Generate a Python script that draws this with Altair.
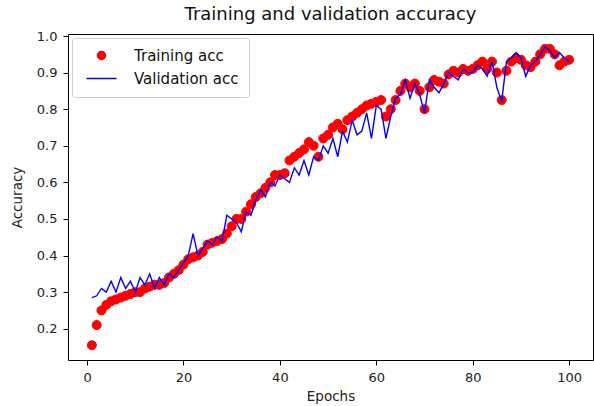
import altair as alt
import pandas as pd

epochs = list(range(1, 101))

train_acc = [
    0.155, 0.21, 0.25, 0.265, 0.275, 0.28, 0.285, 0.29, 0.295, 0.30,
    0.30, 0.31, 0.315, 0.32, 0.32, 0.325, 0.34, 0.35, 0.36, 0.375,
    0.39, 0.395, 0.40, 0.41, 0.43, 0.435, 0.44, 0.445, 0.46, 0.48,
    0.50, 0.50, 0.52, 0.54, 0.56, 0.57, 0.585, 0.60, 0.62, 0.62,
    0.625, 0.66, 0.67, 0.68, 0.69, 0.71, 0.70, 0.67, 0.72, 0.73,
    0.75, 0.76, 0.745, 0.77, 0.78, 0.79, 0.80, 0.81, 0.815, 0.82,
    0.825, 0.78, 0.80, 0.825, 0.85, 0.87, 0.86, 0.87, 0.85, 0.80,
    0.86, 0.88, 0.875, 0.87, 0.895, 0.905, 0.90, 0.91, 0.905, 0.91,
    0.92, 0.93, 0.91, 0.93, 0.90, 0.825, 0.905, 0.93, 0.94, 0.935,
    0.92, 0.915, 0.93, 0.95, 0.965, 0.965, 0.95, 0.92, 0.93, 0.935,
]

val_acc = [
    0.285, 0.29, 0.31, 0.30, 0.33, 0.30, 0.34, 0.31, 0.33, 0.30,
    0.34, 0.32, 0.35, 0.31, 0.34, 0.32, 0.35, 0.34, 0.36, 0.38,
    0.40, 0.46, 0.40, 0.42, 0.44, 0.43, 0.45, 0.44, 0.51, 0.50,
    0.49, 0.465, 0.52, 0.51, 0.55, 0.58, 0.56, 0.60, 0.59, 0.62,
    0.61, 0.60, 0.64, 0.62, 0.66, 0.62, 0.67, 0.66, 0.70, 0.68,
    0.72, 0.67, 0.74, 0.71, 0.77, 0.73, 0.74, 0.79, 0.72, 0.81,
    0.80, 0.72, 0.78, 0.83, 0.84, 0.88, 0.83, 0.87, 0.84, 0.79,
    0.88, 0.86, 0.845, 0.87, 0.90, 0.89, 0.88, 0.91, 0.90, 0.90,
    0.92, 0.91, 0.89, 0.93, 0.86, 0.82, 0.93, 0.94, 0.955, 0.94,
    0.89, 0.92, 0.93, 0.95, 0.97, 0.96, 0.94, 0.955, 0.94, 0.93,
]

series_names = ["Training acc", "Validation acc"]
series_colors = ["red", "blue"]
series_shapes = ["circle", "M-3.75,0L3.75,0"]
x_ticks = [0, 20, 40, 60, 80, 100]
y_ticks = [0.2, 0.3, 0.4, 0.5, 0.6, 0.7, 0.8, 0.9, 1.0]

train_df = pd.DataFrame({"epoch": epochs, "acc": train_acc, "series": series_names[0]})
val_df = pd.DataFrame({"epoch": epochs, "acc": val_acc, "series": series_names[1]})

FONT = "DejaVu Sans"

x = alt.X(
    "epoch:Q",
    scale=alt.Scale(domain=[-3.95, 104.95], nice=False, zero=False),
    axis=alt.Axis(values=x_ticks, title="Epochs", format="d"),
)
y = alt.Y(
    "acc:Q",
    scale=alt.Scale(domain=[0.1145, 1.0055], nice=False, zero=False),
    axis=alt.Axis(values=y_ticks, title="Accuracy", format=".1f"),
)

legend = alt.Legend(
    title=None,
    orient="top-left",
    offset=4,
    padding=10,
    strokeColor="#cccccc",
    fillColor="white",
    cornerRadius=3,
    labelFont=FONT,
    labelFontSize=15,
    labelColor="#111111",
    symbolSize=64,
    symbolStrokeWidth=1.5,
    symbolOffset=12,
    labelOffset=25,
    rowPadding=7,
)

points = alt.Chart(train_df).mark_point(filled=True, size=81, opacity=1, strokeWidth=1).encode(
    x=x,
    y=y,
    fill=alt.Fill("series:N", scale=alt.Scale(domain=series_names, range=series_colors), legend=legend),
    stroke=alt.Stroke("series:N", scale=alt.Scale(domain=series_names, range=series_colors), legend=legend),
    shape=alt.Shape("series:N", scale=alt.Scale(domain=series_names, range=series_shapes), legend=legend),
)

line = alt.Chart(val_df).mark_line(strokeWidth=1.4, color="blue").encode(x=x, y=y)

chart = (
    alt.layer(points, line)
    .properties(
        width=525,
        height=326,
        padding={"left": 68, "top": 34, "right": 1, "bottom": 46},
        autosize=alt.AutoSizeParams(type="none"),
        title=alt.TitleParams(
            "Training and validation accuracy",
            font=FONT,
            fontSize=18,
            fontWeight="normal",
            color="#111111",
            anchor="middle",
            offset=6,
        ),
    )
    .configure_view(stroke="black", strokeWidth=1)
    .configure_axis(
        labelFont=FONT,
        labelFontSize=13,
        labelColor="#222222",
        titleFont=FONT,
        titleFontSize=13.5,
        titleFontWeight="normal",
        titleColor="#222222",
        tickColor="black",
        tickSize=5,
        domain=False,
        grid=False,
        labelPadding=6,
    )
    .configure_axisX(titlePadding=5)
    .configure_axisY(titlePadding=12)
)

chart.save("out.html", embed_options={"renderer": "svg", "actions": False})
